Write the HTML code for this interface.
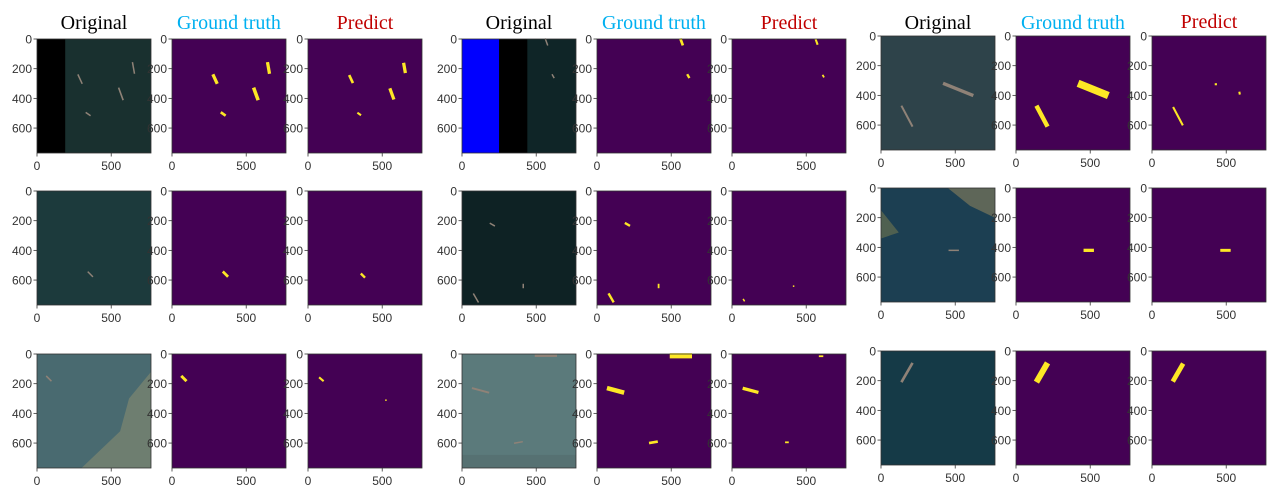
<!DOCTYPE html>
<html><head><meta charset="utf-8"><style>
body{margin:0;background:#fff;width:1277px;height:497px;overflow:hidden}
svg{display:block}
</style></head><body>
<svg id="fig" width="1277" height="497" xmlns="http://www.w3.org/2000/svg" font-family="Liberation Sans, DejaVu Sans, sans-serif"></svg>
<script>
// image coordinate extent of each panel
const extent = 768;
const yTicks = [0, 200, 400, 600];
const xTicks = [0, 500];
const titles = ["Original", "Ground truth", "Predict"];
const titleColors = ["#000000", "#00b0f0", "#c00000"];
// ships per sample: [x, y, length, angleDeg, width]  (image px)
const gtShips = [
  [[290,270,70,65,22],[650,195,80,80,22],[565,370,90,70,24],[345,505,40,35,18]],
  [[570,20,50,70,18],[615,250,30,60,16]],
  [[175,540,160,62,30],[520,360,220,22,50]],
  [[360,560,50,45,18]],
  [[205,225,40,30,16],[95,720,70,60,16],[415,640,30,90,12]],
  [[490,420,70,0,22]],
  [[80,165,50,45,20]],
  [[125,245,120,15,30],[565,12,150,0,35],[380,595,60,-10,18]],
  [[175,145,150,-60,40]]
];
const predShips = [
  [[290,270,60,65,18],[650,195,70,80,22],[565,370,80,70,22],[345,505,30,35,14]],
  [[570,20,40,70,14],[615,250,20,60,12]],
  [[175,540,140,62,14],[430,325,15,0,14],[590,385,20,80,14]],
  [[370,570,40,45,16]],
  [[80,735,20,60,10],[415,640,10,0,8]],
  [[495,420,70,0,20]],
  [[90,170,40,40,14],[525,310,10,0,8]],
  [[125,245,110,15,22],[600,15,30,0,12],[370,595,25,0,12]],
  [[175,145,140,-60,32]]
];
// layout (not data)
const gx = [[37,172,308],[462,597,732],[881,1016,1152]];
const gy = [39,191,354];
const S = 114;
const svg = document.getElementById('fig');
const NS = "http://www.w3.org/2000/svg";
function mk(tag, attrs, parent){const e=document.createElementNS(NS,tag);for(const k in attrs)e.setAttribute(k,attrs[k]);(parent||svg).appendChild(e);return e;}
const sc = v => v / extent * S;

for(let g=0; g<3; g++) for(let c=0; c<3; c++){
  const t = mk('text',{x:gx[g][c]+S/2,y:g==2&&c==2?28:29,'text-anchor':'middle','font-family':'Liberation Serif, serif','font-size':20,fill:titleColors[c]});
  
  
  t.textContent = titles[c];
}

const origBg = ['#19302f','#0f2527','#2e434a','#1c3a3c','#0e2224','#1c3f52','#496a70','#5b7a7b','#153a47'];
function drawOriginal(g, s, px, py){
  const idx = s*3+g;
  mk('rect',{x:px,y:py,width:S,height:S,fill:origBg[idx]});
  if(idx==0) mk('rect',{x:px,y:py,width:sc(190),height:S,fill:'#000'});
  if(idx==1){ mk('rect',{x:px,y:py,width:sc(250),height:S,fill:'#0000ff'}); mk('rect',{x:px+sc(250),y:py,width:sc(190),height:S,fill:'#000'}); }
  if(idx==5){ mk('path',{d:`M${px} ${py+sc(340)} L${px+sc(120)} ${py+sc(300)} L${px} ${py+sc(150)} Z`,fill:'#4f6050'});
              mk('path',{d:`M${px+sc(450)} ${py} L${px+S} ${py} L${px+S} ${py+sc(200)} L${px+sc(600)} ${py+sc(120)} Z`,fill:'#5e6658'}); }
  if(idx==6){ mk('path',{d:`M${px+S} ${py+sc(120)} L${px+sc(620)} ${py+sc(300)} L${px+sc(560)} ${py+sc(520)} L${px+sc(300)} ${py+S} L${px+S} ${py+S} Z`,fill:'#6e7e70'}); }
  if(idx==7) mk('rect',{x:px,y:py+sc(680),width:S,height:sc(88),fill:'#567172'});
  for(const sh of gtShips[idx]) drawShip(px,py,sh,'#8f8277',0.45);
}
function drawShip(px,py,sh,color,wf){
  const [x,y,l,a,w] = sh;
  const r = mk('rect',{x:px+sc(x)-sc(l)/2,y:py+sc(y)-sc(w*wf)/2,width:sc(l),height:Math.max(1.5,sc(w*wf)),fill:color,
    transform:`rotate(${a} ${px+sc(x)} ${py+sc(y)})`});
  
  
}
function drawAxes(px,py){
  mk('rect',{x:px,y:py,width:S,height:S,fill:'none',stroke:'#333','stroke-width':0.8});
  for(const t of yTicks){
    const y = py + sc(t);
    mk('line',{x1:px-3.5,x2:px,y1:y,y2:y,stroke:'#333','stroke-width':0.8});
    const tx = mk('text',{x:px-5,y:y+4.5,'text-anchor':'end','font-size':12,fill:'#333'});
    
    
    tx.textContent = t;
  }
  for(const t of xTicks){
    const x = px + sc(t);
    mk('line',{x1:x,x2:x,y1:py+S,y2:py+S+3.5,stroke:'#333','stroke-width':0.8});
    const tx = mk('text',{x:x,y:py+S+17,'text-anchor':'middle','font-size':12,fill:'#333'});
    
    
    tx.textContent = t;
  }
}
for(let s=0;s<3;s++) for(let g=0;g<3;g++){
  const py = gy[s] + (g==2 ? -3 : 0);
  for(let c=0;c<3;c++){
    const px = gx[g][c];
    const grp = mk('g',{});
    
    
    if(c==0) drawOriginal(g,s,px,py);
    else {
      mk('rect',{x:px,y:py,width:S,height:S,fill:'#440154'});
      const ships = c==1 ? gtShips[s*3+g] : predShips[s*3+g];
      for(const sh of ships) drawShip(px,py,sh,'#fde725',1);
    }
    drawAxes(px,py);
  }
}
</script>
</body></html>
